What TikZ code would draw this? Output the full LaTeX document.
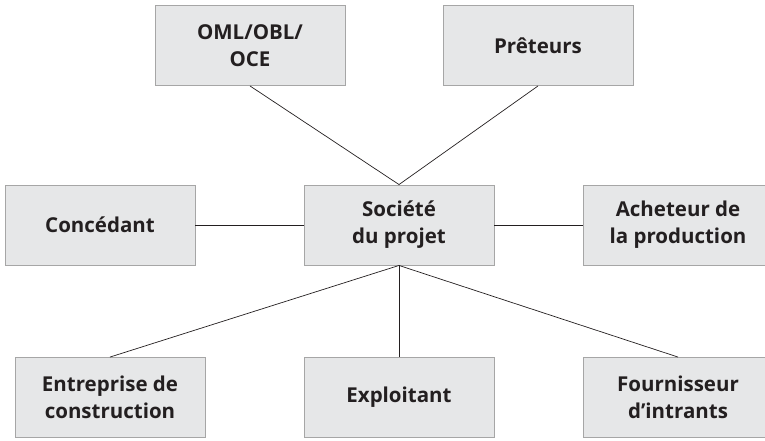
\documentclass[tikz,border=0pt]{standalone}
\usepackage{fontspec}
\setmainfont{Open Sans}
\definecolor{boxfill}{HTML}{E6E7E8}
\definecolor{boxedge}{HTML}{4D4D4F}
\definecolor{txt}{HTML}{231F20}
\begin{document}
\begin{tikzpicture}[x=1pt,y=-1pt,
  box/.style={draw=boxedge, line width=0.9pt, fill=boxfill, minimum width=190pt, minimum height=80pt,
    inner sep=0pt, align=center, text=txt, font=\fontsize{20.5}{27}\selectfont\bfseries,
    postaction={draw=gray!70, line width=1pt, shift={(0.8pt,-0.8pt)}}},
  link/.style={draw=txt, line width=0.7pt}]
\useasboundingbox (0,0) rectangle (765,440);
\node[box] (oml) at (250,45.5) {OML/OBL/\\OCE};
\node[box] (pre) at (538,45.5) {Prêteurs};
\node[box] (con) at (100,225) {Concédant};
\node[box] (soc) at (399,225) {Société\\du projet};
\node[box] (ach) at (678,225) {Acheteur de\\la production};
\node[box] (ent) at (110,397.5) {Entreprise de\\construction};
\node[box] (exp) at (399,397.5) {Exploitant};
\node[box] (fou) at (678,397.5) {Fournisseur\\d’intrants};
\draw[link] (oml.south) -- (soc.north);
\draw[link] (pre.south) -- (soc.north);
\draw[link] (con.east) -- (soc.west);
\draw[link] (soc.east) -- (ach.west);
\draw[link] (soc.south) -- (ent.north);
\draw[link] (soc.south) -- (exp.north);
\draw[link] (soc.south) -- (fou.north);
\end{tikzpicture}
\end{document}
